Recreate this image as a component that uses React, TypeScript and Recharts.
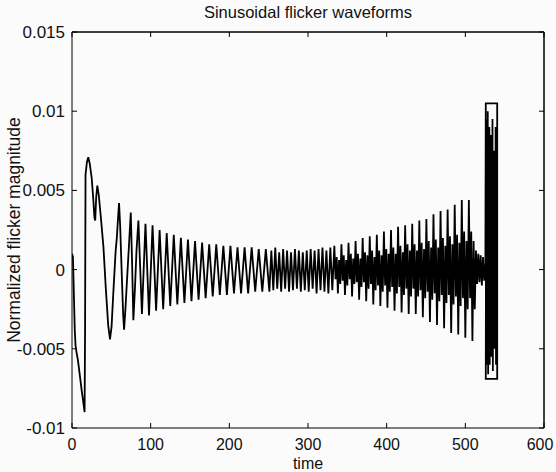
import React from 'react';
import { LineChart, Line, XAxis, YAxis, ReferenceLine } from 'recharts';

// Axis ticks
const xTicks = [0, 100, 200, 300, 400, 500, 600];
const yTicks = [-100, -50, 0, 50, 100, 150]; // values in units of 1e-4
const yTickLabels = ['-0.01', '-0.005', '0', '0.005', '0.01', '0.015'];

const title = 'Sinusoidal flicker waveforms';
const xLabel = 'time';
const yLabel = 'Normalized flicker magnitude';

// Waveform values are in units of 1e-4 (normalized flicker magnitude)
// Onset: slow, large swings
const onsetTime = [0, 1.2, 2.2, 3.5, 4.5, 6, 7.5, 10, 12.5, 15, 16, 16.6, 17.2, 19, 20.7, 22.5, 25, 27, 28.5, 29.5, 30.8, 32.2, 34, 36.5, 40, 43, 46, 48.3, 50.3, 52.6, 55.5, 57, 58.2, 59.8, 61.2, 63.2, 65, 66.2, 68, 70, 72.5, 74.7, 76.3, 78, 80, 82, 84.4];
const onsetValue = [10, 8, -12, -38, -48, -53, -57, -67, -77, -86, -90, -40, 60, 68, 71, 67, 58, 45, 33, 31, 46, 53, 47, 34, 14, -12, -35, -44, -36, -14, 12, 20, 30, 42, 28, -2, -28, -38, -24, -6, 16, 36, 6, -32, -12, 12, 31];

// Decaying oscillation (extrema sampled every 4.5 time units)
const decayStart = 88.9;
const decayStep = 4.5;
const decayValue = [-28, 29, -29, 28, -26, 25, -25, 23, -23, 22, -22, 20, -21, 19, -20, 18, -19, 17, -18, 16, -17, 16, -16, 15, -16, 15, -15, 14, -15, 14, -15, 14, -14, 13, -14, 13, -14];

// Quiet middle section (extrema every 2.5 time units)
const midStart = 253.4;
const midStep = 2.5;
const midValue = [12, -13, 14, -12, 11, -14, 13, -12, 12, -14, 11, -13, 13, -12, 12, -14, 11, -13, 12, -14, 13, -12, 12, -15, 13, -13, 14, -14, 12, -15, 14, -13];

// Growing dense section (samples every 1.5 time units)
const denseStart = 333.5;
const denseStep = 1.5;
const denseValue = [
  15, -6, 8, -15, 6, -9,
  16, -7, 9, -16, 6, -10,
  17, -6, 10, -17, 7, -9,
  18, -8, 10, -19, 7, -11,
  20, -8, 11, -20, 9, -12,
  21, -9, 12, -22, 8, -13,
  22, -10, 12, -23, 9, -14,
  24, -10, 13, -24, 10, -14,
  25, -11, 14, -26, 10, -15,
  27, -11, 15, -27, 11, -16,
  28, -12, 16, -28, 12, -17,
  29, -12, 16, -28, 12, -17,
  31, -13, 17, -30, 13, -18,
  32, -14, 18, -33, 14, -19,
  35, -15, 19, -35, 14, -20,
  37, -16, 20, -37, 15, -21,
  38, -16, 21, -40, 16, -22,
  41, -17, 22, -41, 17, -23,
  44, -18, 24, -43, 18, -25,
  44, -18, 24, -45, 18, -25,
];

// Short low section before the final burst
const tailTime = [513.5, 515, 516.5, 518, 519.5, 521, 522.5, 524, 525.5];
const tailValue = [12, -9, 10, -8, 9, -10, 8, -7, 4];

// Final burst
const burstTime = [526, 540.5, 540.5, 526, 526.5, 527, 527.5, 528, 528.5, 529, 529.5, 530, 530.5, 531, 531.5, 532, 532.5, 533, 533.5, 534, 534.5, 535, 535.5, 536, 536.5, 537, 537.5, 538, 538.5, 539, 539.5, 540, 540.5];
const burstValue = [105, 105, -69, -69, 95, -60, 80, -50, 100, -66, 70, -45, 90, -60, 65, -42, 85, -55, 60, -40, 95, -64, 55, -40, 75, -50, 60, -42, 90, -60, 50, -38, 0];

type Row = { t: number; v: number };
const rows: Row[] = [];
onsetTime.forEach((t, i) => rows.push({ t, v: onsetValue[i] }));
decayValue.forEach((v, i) => rows.push({ t: decayStart + i * decayStep, v }));
midValue.forEach((v, i) => rows.push({ t: midStart + i * midStep, v }));
denseValue.forEach((v, i) => rows.push({ t: denseStart + i * denseStep, v }));
tailTime.forEach((t, i) => rows.push({ t, v: tailValue[i] }));
burstTime.forEach((t, i) => rows.push({ t, v: burstValue[i] }));

const FONT = '"Liberation Sans", Arial, Helvetica, sans-serif';
const TXT = '#111';
const TICK = 5;

const BottomTick = (props: any) => {
  const { x, y, payload } = props;
  const isLast = payload.value === xTicks[xTicks.length - 1];
  return (
    <g>
      <line x1={x} x2={x} y1={y} y2={y - TICK} stroke="#000" strokeWidth={1} />
      <text x={isLast ? x - 4 : x} y={y + 22} textAnchor="middle" fontFamily={FONT} fontSize={16} fill={TXT}>
        {String(payload.value)}
      </text>
    </g>
  );
};

const TopTick = (props: any) => {
  const { x, y } = props;
  return <line x1={x} x2={x} y1={y} y2={y + TICK} stroke="#000" strokeWidth={1} />;
};

const LeftTick = (props: any) => {
  const { x, y, payload } = props;
  const idx = yTicks.indexOf(payload.value);
  return (
    <g>
      <line x1={x} x2={x + TICK} y1={y} y2={y} stroke="#000" strokeWidth={1} />
      <text x={x - 7} y={y + 6} textAnchor="end" fontFamily={FONT} fontSize={17} fill={TXT}>
        {idx >= 0 ? yTickLabels[idx] : ''}
      </text>
    </g>
  );
};

const RightTick = (props: any) => {
  const { x, y } = props;
  return <line x1={x} x2={x - TICK} y1={y} y2={y} stroke="#000" strokeWidth={1} />;
};

const XLabel = (props: any) => {
  const vb = props.viewBox || {};
  return (
    <text x={vb.x + vb.width / 2} y={vb.y + 41} textAnchor="middle" fontFamily={FONT} fontSize={16} fill={TXT}>
      {xLabel}
    </text>
  );
};

const YLabel = (props: any) => {
  const vb = props.viewBox || {};
  const cx = vb.x + 20;
  const cy = vb.y + vb.height / 2;
  return (
    <text x={cx} y={cy} textAnchor="middle" fontFamily={FONT} fontSize={17.5} fill={TXT} transform={`rotate(-90, ${cx}, ${cy})`}>
      {yLabel}
    </text>
  );
};

export default function App() {
  return (
    <div style={{ position: 'absolute', left: 0, top: 0, width: 556, height: 472, background: '#fbfbfb' }}>
      <div
        style={{
          position: 'absolute',
          left: 72,
          width: 472,
          top: 3,
          textAlign: 'center',
          fontFamily: FONT,
          fontSize: 16.5,
          lineHeight: '18px',
          color: TXT,
        }}
      >
        {title}
      </div>
      <LineChart width={556} height={472} data={rows} margin={{ top: 31, right: 11, bottom: 0, left: 0 }}>
        <XAxis
          xAxisId="main"
          dataKey="t"
          type="number"
          domain={[0, 600]}
          ticks={xTicks}
          interval={0}
          orientation="bottom"
          height={44}
          tickSize={0}
          tickMargin={0}
          tickLine={false}
          tick={<BottomTick />}
          axisLine={{ stroke: '#000', strokeWidth: 1 }}
          allowDataOverflow
          label={<XLabel />}
        />
        <XAxis
          xAxisId="top"
          dataKey="t"
          type="number"
          domain={[0, 600]}
          ticks={xTicks}
          interval={0}
          orientation="top"
          height={1}
          tickSize={0}
          tickMargin={0}
          tickLine={false}
          tick={<TopTick />}
          axisLine={{ stroke: '#000', strokeWidth: 1 }}
          allowDataOverflow
        />
        <YAxis
          yAxisId="main"
          type="number"
          domain={[-100, 150]}
          ticks={yTicks}
          interval={0}
          width={72}
          tickSize={0}
          tickMargin={0}
          tickLine={false}
          tick={<LeftTick />}
          axisLine={{ stroke: '#000', strokeWidth: 1 }}
          allowDataOverflow
          label={<YLabel />}
        />
        <YAxis
          yAxisId="right"
          orientation="right"
          type="number"
          domain={[-100, 150]}
          ticks={yTicks}
          interval={0}
          width={1}
          tickSize={0}
          tickMargin={0}
          tickLine={false}
          tick={<RightTick />}
          axisLine={{ stroke: '#000', strokeWidth: 1 }}
          allowDataOverflow
        />
        <ReferenceLine xAxisId="main" yAxisId="main" y={150} stroke="#000" strokeWidth={1} />
        <ReferenceLine xAxisId="main" yAxisId="main" x={600} stroke="#000" strokeWidth={1} />
        <Line
          xAxisId="main"
          yAxisId="main"
          dataKey="v"
          type="linear"
          stroke="#000"
          strokeWidth={1.8}
          dot={false}
          activeDot={false}
          isAnimationActive={false}
        />
      </LineChart>
    </div>
  );
}
